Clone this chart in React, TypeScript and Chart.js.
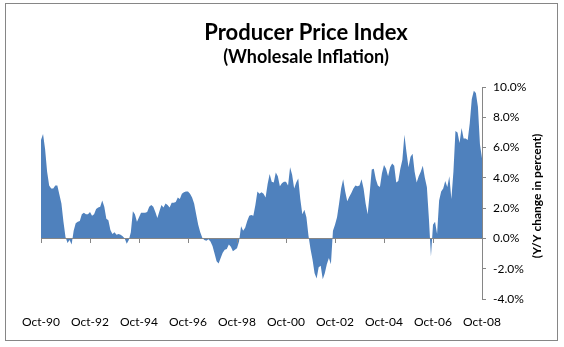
import React, { useEffect, useRef } from "react";
import { Chart, registerables } from "chart.js";

Chart.register(...registerables);

// Monthly PPI year-over-year change (%), Oct-1990 .. Oct-2008
const ppiValues: number[] = [
  6.5, 6.9, 5.9, 4.4, 3.5, 3.3, 3.3, 3.5, 3.5, 2.9,
  2.3, 1.1, 0.1, -0.3, -0.1, -0.4, 0.5, 1.0, 1.1, 1.15,
  1.6, 1.7, 1.6, 1.6, 1.75, 1.5, 1.6, 1.95, 2.05, 2.1,
  2.5, 2.1, 1.3, 1.2, 0.55, 0.3, 0.4, 0.25, 0.3, 0.25,
  0.15, 0.0, -0.35, -0.1, 0.4, 1.8, 1.6, 1.1, 1.4, 1.7,
  1.7, 1.7, 1.75, 2.1, 2.2, 2.1, 1.75, 1.35, 1.8, 2.2,
  2.05, 2.3, 2.2, 2.05, 2.35, 2.35, 2.4, 2.7, 2.6, 2.95,
  3.05, 3.1, 3.1, 2.95, 2.7, 2.3, 1.6, 0.9, 0.4, 0.05,
  -0.1, -0.15, -0.05, -0.2, -0.5, -1.0, -1.5, -1.65, -1.3, -0.95,
  -0.75, -0.7, -0.4, -0.55, -0.85, -0.75, -0.65, -0.2, 0.8, 0.5,
  0.7, 1.15, 1.5, 1.55, 1.5, 2.2, 3.1, 2.95, 3.05, 2.95,
  2.7, 3.6, 4.25, 3.75, 3.7, 4.35, 4.1, 3.45, 3.65, 3.75,
  3.75, 3.5, 4.7, 4.2, 3.3, 3.7, 3.95, 2.6, 1.6, 1.9,
  1.4, 0.2, -0.7, -1.4, -2.3, -2.65, -1.9, -1.8, -2.7, -2.3,
  -1.7, -1.3, -1.7, 0.5, 0.9, 1.4, 2.3, 3.3, 3.9, 3.1,
  2.45, 2.75, 3.0, 3.3, 3.5, 3.45, 3.5, 3.9, 3.3, 2.3,
  1.6, 3.0, 4.55, 4.6, 3.9, 3.5, 3.4, 4.3, 4.85, 4.6,
  4.1, 4.7, 4.95, 4.8, 3.7, 3.8, 4.6, 5.2, 6.85, 5.7,
  4.7, 5.4, 5.6, 4.4, 3.7, 4.1, 4.4, 4.8, 4.0, 3.4,
  1.3, -1.2, 0.9, 1.1, 0.3, 2.5, 3.1, 3.3, 3.8, 3.4,
  4.1, 2.6, 4.4, 7.1, 7.0, 6.3, 7.3, 6.6, 6.6, 6.5,
  7.6, 9.2, 9.75, 9.6, 8.7, 6.2, 5.3,
];

// Month index (0 = Oct-90)
const monthIndex: number[] = ppiValues.map((_, i) => i);

// Category tick labels, one every 24 months
const xTickLabels: string[] = [
  "Oct-90", "Oct-92", "Oct-94", "Oct-96", "Oct-98",
  "Oct-00", "Oct-02", "Oct-04", "Oct-06", "Oct-08",
];
const xTickStep = 24;

const yMin = -4;
const yMax = 10;
const yStep = 2;

const chartTitle = "Producer Price Index";
const chartSubtitle = "(Wholesale Inflation)";
const yAxisTitle = "(Y/Y change in percent)";

const FONT = "Lato, 'Open Sans', sans-serif";
const AXIS_GRAY = "#868686";
const FILL_BLUE = "#4F81BD";

const titlesPlugin = {
  id: "customTitles",
  afterDraw(chart: any) {
    const ctx = chart.ctx as CanvasRenderingContext2D;
    const area = chart.chartArea;
    ctx.save();
    ctx.fillStyle = "#000";
    ctx.textAlign = "center";
    ctx.textBaseline = "middle";
    ctx.font = `bold 22px ${FONT}`;
    ctx.fillText(chartTitle, 306, 33);
    ctx.font = `bold 18px ${FONT}`;
    ctx.fillText(chartSubtitle, 306, 57);
    // rotated y-axis title (reads bottom-to-top)
    ctx.translate(537, (area.top + area.bottom) / 2 + 3);
    ctx.rotate(-Math.PI / 2);
    ctx.font = `bold 12px ${FONT}`;
    ctx.fillText(yAxisTitle, 0, 0);
    ctx.restore();
  },
};

export default function App() {
  const canvasRef = useRef<HTMLCanvasElement | null>(null);

  useEffect(() => {
    if (!canvasRef.current) return;
    const points = monthIndex.map((m, i) => ({ x: m, y: ppiValues[i] }));
    const lastIndex = monthIndex[monthIndex.length - 1];

    const chart = new Chart(canvasRef.current, {
      type: "line",
      data: {
        datasets: [
          {
            data: points,
            fill: "origin",
            backgroundColor: FILL_BLUE,
            borderColor: "rgba(0,0,0,0)",
            borderWidth: 0,
            pointRadius: 0,
            pointHoverRadius: 0,
            tension: 0,
          },
        ],
      },
      options: {
        responsive: false,
        animation: false,
        events: [],
        layout: { padding: { left: 41, top: 87, right: 22, bottom: 18 } },
        plugins: {
          legend: { display: false },
          title: { display: false },
          tooltip: { enabled: false },
        },
        scales: {
          x: {
            type: "linear",
            axis: "x",
            position: { y: 0 } as any,
            min: 0,
            max: lastIndex,
            ticks: { stepSize: xTickStep, display: false },
            grid: {
              drawOnChartArea: false,
              drawTicks: true,
              tickLength: 4,
              color: AXIS_GRAY,
              z: 1,
            },
            border: { display: true, color: AXIS_GRAY, width: 1, z: 1 },
          },
          xLabels: {
            type: "linear",
            axis: "x",
            position: "bottom",
            min: 0,
            max: lastIndex,
            grid: { display: false, drawTicks: false },
            border: { display: false },
            ticks: {
              stepSize: xTickStep,
              autoSkip: false,
              maxRotation: 0,
              padding: 16,
              color: "#000",
              font: { family: FONT, size: 12 },
              callback: (v: any) => {
                const idx = Math.round(Number(v) / xTickStep);
                return xTickLabels[idx] ?? "";
              },
            },
            afterFit: (s: any) => {
              s.height = 30;
            },
          },
          y: {
            type: "linear",
            position: "right",
            min: yMin,
            max: yMax,
            ticks: {
              stepSize: yStep,
              padding: 7,
              color: "#000",
              font: { family: FONT, size: 12 },
              callback: (v: any) => Number(v).toFixed(1) + "%",
            },
            grid: {
              drawOnChartArea: false,
              drawTicks: true,
              tickLength: 4,
              color: AXIS_GRAY,
            },
            border: { display: true, color: AXIS_GRAY, width: 1 },
            afterFit: (s: any) => {
              s.width = 60;
            },
          },
        },
      },
      plugins: [titlesPlugin],
    });

    return () => chart.destroy();
  }, []);

  return (
    <div
      style={{
        position: "fixed",
        left: 0,
        top: 0,
        width: 564,
        height: 347,
        background: "#fff",
      }}
    >
      <canvas
        ref={canvasRef}
        width={564}
        height={347}
        style={{ position: "absolute", left: 0, top: 0, width: 564, height: 347 }}
      />
      <div
        style={{
          position: "absolute",
          left: 5,
          top: 3,
          width: 553,
          height: 338,
          border: `1px solid ${AXIS_GRAY}`,
          boxSizing: "border-box",
          pointerEvents: "none",
        }}
      />
    </div>
  );
}
